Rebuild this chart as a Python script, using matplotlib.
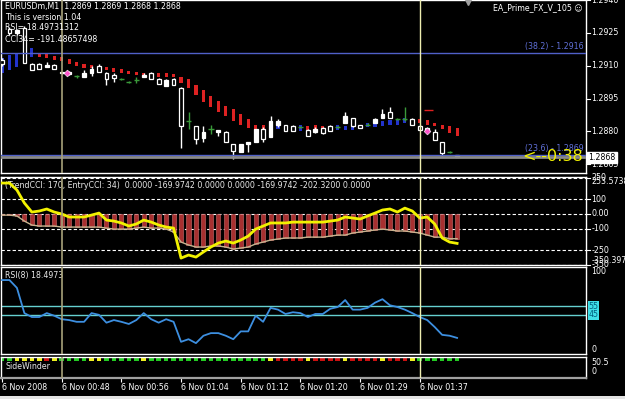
import numpy as np
import matplotlib
matplotlib.use("Agg")
import matplotlib.pyplot as plt
from matplotlib.patches import Rectangle

# ---- data (EURUSDm, M1) ----
bars = np.arange(62)
time_ticks = [0, 8, 16, 24, 32, 40, 48, 56]
time_labels = ['6 Nov 2008', '6 Nov 00:48', '6 Nov 00:56', '6 Nov 01:04',
               '6 Nov 01:12', '6 Nov 01:20', '6 Nov 01:29', '6 Nov 01:37']

opens = [1.29127, 1.29268, 1.29250, 1.29273, 1.29109, 1.29109, 1.29095, 1.29104, 1.29068, 1.29063,
         1.29054, 1.29050, 1.29068, 1.29100, 1.29068, 1.29059, 1.29041, 1.29027, 1.29036, 1.29050,
         1.29068, 1.29041, 1.29009, 1.29041, 1.29000, 1.28845, 1.28822, 1.28768, 1.28809, 1.28795,
         1.28795, 1.28741, 1.28704, 1.28741, 1.28750, 1.28809, 1.28772, 1.28831, 1.28831, 1.28822,
         1.28818, 1.28804, 1.28795, 1.28813, 1.28822, 1.28818, 1.28836, 1.28863, 1.28831, 1.28831,
         1.28840, 1.28859, 1.28890, 1.28854, 1.28854, 1.28854, 1.28822, 1.28813, 1.28795, 1.28750,
         1.28704, 1.28681]
highs = [1.29136, 1.29277, 1.29268, 1.29282, 1.29113, 1.29113, 1.29118, 1.29109, 1.29072, 1.29077,
         1.29059, 1.29082, 1.29100, 1.29109, 1.29072, 1.29068, 1.29045, 1.29031, 1.29050, 1.29068,
         1.29072, 1.29045, 1.29041, 1.29045, 1.29004, 1.28886, 1.28822, 1.28822, 1.28831, 1.28804,
         1.28800, 1.28741, 1.28741, 1.28750, 1.28809, 1.28818, 1.28872, 1.28854, 1.28831, 1.28827,
         1.28822, 1.28809, 1.28818, 1.28818, 1.28831, 1.28822, 1.28886, 1.28863, 1.28831, 1.28836,
         1.28863, 1.28900, 1.28913, 1.28859, 1.28913, 1.28859, 1.28827, 1.28818, 1.28809, 1.28750,
         1.28709, 1.28691]
lows = [1.29100, 1.29241, 1.29241, 1.29113, 1.29082, 1.29086, 1.29095, 1.29086, 1.29063, 1.29059,
        1.29045, 1.29050, 1.29054, 1.29072, 1.29013, 1.29027, 1.29036, 1.29022, 1.29022, 1.29050,
        1.29041, 1.29018, 1.29009, 1.29013, 1.28722, 1.28809, 1.28741, 1.28750, 1.28786, 1.28777,
        1.28750, 1.28672, 1.28704, 1.28704, 1.28750, 1.28750, 1.28772, 1.28818, 1.28800, 1.28800,
        1.28813, 1.28777, 1.28790, 1.28786, 1.28800, 1.28813, 1.28836, 1.28818, 1.28813, 1.28827,
        1.28840, 1.28859, 1.28863, 1.28850, 1.28845, 1.28827, 1.28804, 1.28800, 1.28759, 1.28686,
        1.28700, 1.28681]
closes = [1.29109, 1.29250, 1.29264, 1.29113, 1.29082, 1.29086, 1.29104, 1.29086, 1.29072, 1.29072,
          1.29054, 1.29068, 1.29086, 1.29072, 1.29041, 1.29045, 1.29041, 1.29027, 1.29036, 1.29059,
          1.29041, 1.29018, 1.29036, 1.29013, 1.28822, 1.28845, 1.28763, 1.28795, 1.28809, 1.28804,
          1.28750, 1.28709, 1.28741, 1.28750, 1.28809, 1.28763, 1.28845, 1.28845, 1.28800, 1.28800,
          1.28818, 1.28777, 1.28809, 1.28790, 1.28800, 1.28818, 1.28868, 1.28822, 1.28813, 1.28831,
          1.28854, 1.28881, 1.28863, 1.28854, 1.28854, 1.28827, 1.28804, 1.28804, 1.28759, 1.28700,
          1.28704, 1.28691]

# heiken ashi style bars (red / blue)
ha_hi = [1.29136, 1.29150, 1.29159, 1.29173, 1.29182, 1.29159, 1.29159, 1.29145, 1.29141, 1.29132,
         1.29118, 1.29109, 1.29104, 1.29100, 1.29095, 1.29091, 1.29086, 1.29077, 1.29072, 1.29068,
         1.29068, 1.29068, 1.29068, 1.29063, 1.29050, 1.29041, 1.29013, 1.28991, 1.28963, 1.28940,
         1.28918, 1.28900, 1.28877, 1.28854, 1.28831, 1.28831, 1.28831, 1.28827, 1.28827, 1.28822,
         1.28831, 1.28822, 1.28827, 1.28822, 1.28822, 1.28827, 1.28822, 1.28822, 1.28831, 1.28836,
         1.28840, 1.28845, 1.28850, 1.28850, 1.28863, 1.28854, 1.28854, 1.28850, 1.28840, 1.28831,
         1.28822, 1.28813]
ha_lo = [1.29068, 1.29082, 1.29095, 1.29118, 1.29141, 1.29141, 1.29136, 1.29127, 1.29122, 1.29109,
         1.29100, 1.29091, 1.29091, 1.29082, 1.29082, 1.29072, 1.29068, 1.29063, 1.29059, 1.29054,
         1.29050, 1.29050, 1.29050, 1.29050, 1.29022, 1.29000, 1.28968, 1.28936, 1.28913, 1.28890,
         1.28868, 1.28845, 1.28827, 1.28813, 1.28800, 1.28795, 1.28804, 1.28809, 1.28804, 1.28800,
         1.28800, 1.28804, 1.28809, 1.28804, 1.28804, 1.28804, 1.28804, 1.28804, 1.28809, 1.28818,
         1.28818, 1.28822, 1.28827, 1.28827, 1.28840, 1.28836, 1.28840, 1.28831, 1.28822, 1.28809,
         1.28790, 1.28777]
ha_dir = 'B' * 5 + 'R' * 32 + 'B' * 4 + 'R' * 4 + 'B' * 11 + 'R' * 6

fib_382 = 1.2916
fib_236 = 1.2869
bid = 1.2868
price_ticks = [1.2940, 1.2925, 1.2910, 1.2895, 1.2880, 1.2865]

entry_cci = [212, 212, 164, 75, 13, 20, 34, 13, 0, -21,
             -21, -21, -8, 6, -42, -49, -62, -83, -69, -42,
             -56, -76, -90, -97, -303, -282, -296, -261, -227, -200,
             -186, -200, -179, -152, -104, -83, -62, -62, -62, -56,
             -56, -56, -56, -56, -49, -42, -21, -28, -35, -14,
             6, 27, 34, 13, 40, 20, -28, -21, -69, -165,
             -193, -202]
trend_cci = [-8, -8, -14, -49, -76, -83, -83, -83, -90, -90,
             -90, -90, -90, -90, -97, -104, -104, -104, -97, -90,
             -97, -97, -104, -124, -193, -213, -227, -227, -220, -220,
             -227, -241, -234, -227, -206, -193, -179, -172, -165, -165,
             -165, -159, -159, -159, -152, -145, -145, -131, -124, -117,
             -110, -104, -110, -117, -117, -124, -131, -145, -159, -159,
             -170, -170]
cci_levels = [250, 100, 0, -100, -250, -350]
cci_max, cci_min = 253.5738, -350.397

rsi = [85, 85, 76, 47, 42.5, 42.5, 47, 44, 40, 39,
       37, 37, 47, 45, 36, 39, 37, 34.5, 39, 47,
       40, 36, 40, 37, 14, 17, 12.5, 21, 24, 24,
       21, 17, 26, 26, 44, 37, 53, 51, 46, 48,
       47, 42.5, 46, 46, 52, 54, 62, 51, 51, 53,
       59, 63, 56, 54, 51, 47, 42.5, 39, 31, 22,
       21, 18.5]

sidewinder = ('GGYYYYRYGGGGYY' + 'GGGGG' + 'Y' + 'G' * 16 + 'Y' + 'RRRR' + 'Y' + 'RRRR'
              + 'Y' + 'RRRR' + 'Y' + 'RRR' + 'Y' + 'GGGGGG')

marks_x = [8.7, 57]
marks_y = [1.29068, 1.28800]

W, H = 625, 399
FS = 5.7
plt.rcParams['font.family'] = ['DejaVu Sans']

fig = plt.figure(figsize=(6.25, 3.99), dpi=100, facecolor='black')


def panel(top, bottom):
    ax = fig.add_axes([1 / W, 1 - bottom / H, 585 / W, (bottom - top) / H])
    ax.set_facecolor('black')
    ax.set_xlim(-0.134, 78.28)
    ax.set_xticks([])
    ax.set_yticks([])
    for s in ax.spines.values():
        s.set_color('white')
        s.set_linewidth(1)
    ax.axvline(8, color='#a8a27a', lw=1.2, zorder=5)
    ax.axvline(56, color='#eeeeb0', lw=1, zorder=5)
    return ax


def rlabel(ax, v, s, va='center', tick=True, **kw):
    ax.text(1.009, v, s, transform=ax.get_yaxis_transform(), color='white', fontsize=FS,
            va=va, ha='left', clip_on=False, **kw)
    if tick:
        ax.plot([1.0, 1.006], [v, v], color='white', lw=0.8,
                transform=ax.get_yaxis_transform(), clip_on=False)


# ---- main price window ----
ax = panel(0, 173)
ax.set_ylim(1.28609, 1.29401)

ha_col = ['#2233cc' if d == 'B' else '#dd2222' for d in ha_dir]
ax.bar(bars, np.array(ha_hi) - np.array(ha_lo), bottom=ha_lo, width=0.42, color=ha_col, zorder=1)

for i in bars:
    o, h, l, c = opens[i], highs[i], lows[i], closes[i]
    if o == c:
        ax.vlines(i, l, h, color='#3a9a3a', lw=1, zorder=2)
        ax.hlines(o, i - 0.35, i + 0.35, color='#3a9a3a', lw=1, zorder=2)
        continue
    ax.vlines(i, l, h, color='white', lw=1, zorder=2)
    lo, hi = min(o, c), max(o, c)
    face = 'white' if c > o else 'black'
    ax.add_patch(Rectangle((i - 0.25, lo), 0.5, hi - lo, facecolor=face,
                           edgecolor='white', lw=0.9, zorder=3))

ax.axhline(fib_382, color='#5060c8', lw=1, zorder=4)
ax.axhline(fib_236, color='#5060c8', lw=1, zorder=4)
ax.axhline(bid, color='#8a8a8a', lw=2, zorder=4)
ax.plot(marks_x, marks_y, 'D', color='#ff55cc', ms=3.5, mec='white', mew=0.4, zorder=6)
ax.hlines(1.28896, 56.6, 57.8, color='#e02020', lw=1, zorder=4)
ax.plot([62.5], [1.29392], 'v', color='#a0a0a0', ms=4, clip_on=False, zorder=6)

for v in price_ticks:
    rlabel(ax, v, f'{v:.4f}')
ax.text(1.004, bid, f'{bid:.4f}', transform=ax.get_yaxis_transform(), color='black',
        fontsize=FS, va='center', ha='left', clip_on=False, zorder=10,
        bbox=dict(facecolor='white', edgecolor='white', pad=0.8))

info = ['EURUSDm,M1  1.2869 1.2869 1.2868 1.2868', 'This is version 1.04',
        'RSI= 18.49731312', 'CCI34= -191.48657498']
for k, (s, y) in enumerate(zip(info, [7, 17, 28, 40])):
    fig.text(5 / W, 1 - y / H, s, color='white', fontsize=FS, va='center', ha='left')
fig.text(583 / W, 1 - 8 / H, 'EA_Prime_FX_V_105 \u263a', color='white', fontsize=FS,
         va='center', ha='right')
fig.text(584 / W, 1 - 47 / H, f'(38.2) - {fib_382:.4f}', color='#6070d8', fontsize=FS,
         va='center', ha='right')
fig.text(584 / W, 1 - 148 / H, f'(23.6) - {fib_236:.4f}', color='#6070d8', fontsize=FS,
         va='center', ha='right')
fig.text(583 / W, 1 - 157 / H, '<--0:38', color='#f0f000', fontsize=11.5,
         va='center', ha='right')

# ---- CCI window ----
ax2 = panel(177, 265)
ax2.set_ylim(cci_min, cci_max)
ax2.bar(bars, trend_cci, width=0.55, color='#a83030', edgecolor='#d07070', lw=0.4, zorder=2)
for lv in cci_levels:
    ax2.axhline(lv, color='white', lw=0.8, ls=(0, (3, 2)), zorder=1)
ax2.plot(bars, trend_cci, color='#c8b490', lw=1, zorder=3)
ax2.plot(bars, entry_cci, color='#f2f200', lw=2, zorder=4)
ax2.text(0.007, 0.898, '(TrendCCI: 170, EntryCCI: 34)  0.0000 -169.9742 0.0000 0.0000 '
         '-169.9742 -202.3200 0.0000', transform=ax2.transAxes, color='#e8e8e8',
         fontsize=FS, va='center', ha='left', zorder=1)
rlabel(ax2, cci_max, f'{cci_max:.4f}', va='top', tick=False)
rlabel(ax2, 250, '250')
for lv in [100, -100, -250]:
    rlabel(ax2, lv, str(lv))
rlabel(ax2, 0, '0.00')
rlabel(ax2, -350, '-350')
rlabel(ax2, cci_min, f'{cci_min:.3f}', va='bottom', tick=False)

# ---- RSI window ----
ax3 = panel(267, 354)
ax3.set_ylim(0, 100)
ax3.axhline(55, color='#66d0d0', lw=1, zorder=1)
ax3.axhline(45, color='#66d0d0', lw=1, zorder=1)
ax3.plot(bars, rsi, color='#3d8fe0', lw=1.3, zorder=3)
ax3.text(0.007, 0.908, 'RSI(8) 18.4973', transform=ax3.transAxes, color='#e8e8e8',
         fontsize=FS, va='center', ha='left')
rlabel(ax3, 100, '100', va='top', tick=False)
rlabel(ax3, 0, '0', va='bottom', tick=False)
for lv in [55, 45]:
    ax3.text(1.004, lv, str(lv), transform=ax3.get_yaxis_transform(), color='#005f80',
             fontsize=FS, va='center', ha='left', clip_on=False,
             bbox=dict(facecolor='#40e0e8', edgecolor='none', pad=0.3))

# ---- SideWinder window ----
ax4 = panel(357, 378)
ax4.set_ylim(0, 50.5)
sw_map = {'G': '#22cc22', 'Y': '#f0f020', 'R': '#cc1010'}
ax4.bar(bars, 8, bottom=41, width=0.62, color=[sw_map[s] for s in sidewinder], zorder=2)
ax4.text(0.007, 0.55, 'SideWinder', transform=ax4.transAxes, color='#e8e8e8',
         fontsize=FS, va='center', ha='left')
ax4.text(1.009, 0.73, '50.5', transform=ax4.transAxes, color='white', fontsize=FS,
         va='center', ha='left')
ax4.text(1.009, 0.33, '0', transform=ax4.transAxes, color='white', fontsize=FS,
         va='center', ha='left')
ax4.spines['bottom'].set_color('#a0a0a0')
ax4.spines['bottom'].set_linewidth(1.6)
ax4.set_xticks(time_ticks)
ax4.set_xticklabels(time_labels, ha='left')
ax4.tick_params(axis='x', colors='white', length=3, width=0.8, labelsize=FS, pad=0.8)

# status bar strip at the very bottom
fig.patches.append(Rectangle((0, 0), 1, 3 / H, transform=fig.transFigure,
                             facecolor='#e4e4e4', edgecolor='none'))

fig.savefig('out.png', dpi=100, facecolor='black')
